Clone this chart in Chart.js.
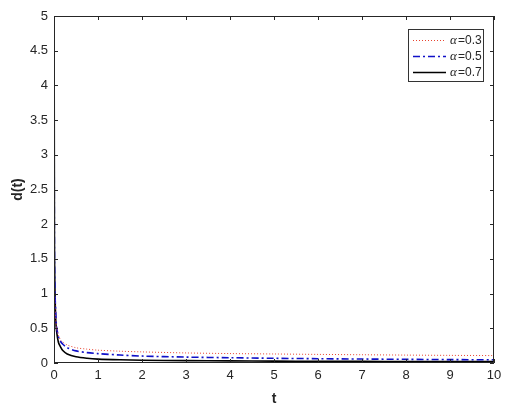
<!DOCTYPE html>
<html>
<head>
<meta charset="utf-8">
<script src="https://cdn.jsdelivr.net/npm/chart.js@4"></script>
<style>
  html, body { margin: 0; padding: 0; background: #fff; }
  #wrap { width: 511px; height: 410px; }
</style>
</head>
<body>
<div id="wrap"><canvas id="dChart"></canvas></div>
<script>
const tValues = [0.001, 0.01, 0.02, 0.04, 0.06, 0.1, 0.15, 0.2, 0.3, 0.5, 0.75, 1, 1.5, 2, 3, 4, 5, 6, 7, 8, 9, 10];
const alpha03 = [2.6, 1.2, 0.9, 0.62, 0.5, 0.4, 0.33, 0.3, 0.26, 0.22, 0.2, 0.185, 0.17, 0.16, 0.145, 0.136, 0.13, 0.124, 0.119, 0.114, 0.11, 0.107];
const alpha05 = [4.2, 1.6, 1.1, 0.7, 0.52, 0.38, 0.31, 0.27, 0.22, 0.175, 0.15, 0.135, 0.115, 0.1, 0.085, 0.076, 0.068, 0.062, 0.057, 0.053, 0.049, 0.046];
const alpha07 = [6, 1.8, 1.1, 0.62, 0.45, 0.3, 0.23, 0.18, 0.13, 0.09, 0.068, 0.056, 0.046, 0.04, 0.034, 0.03, 0.027, 0.025, 0.023, 0.022, 0.021, 0.02];
const seriesLabels = ["0.3", "0.5", "0.7"];

const toPoints = (ys) => tValues.map((t, i) => ({ x: t, y: ys[i] }));

const tickColor = "#262626";

// MATLAB-style box with inward ticks + legend box
const boxPlugin = {
  id: "boxPlugin",
  afterDraw(chart) {
    const c = chart.ctx;
    const a = chart.chartArea;
    const xs = chart.scales.x;
    const ys = chart.scales.y;
    c.save();
    c.strokeStyle = tickColor;
    c.lineWidth = 1;
    c.beginPath();
    c.rect(a.left + 0.5, a.top + 0.5, a.right - a.left - 1, a.bottom - a.top - 1);
    xs.ticks.forEach((tk) => {
      const px = Math.round(xs.getPixelForValue(tk.value)) + 0.5;
      c.moveTo(px, a.bottom); c.lineTo(px, a.bottom - 4);
      c.moveTo(px, a.top); c.lineTo(px, a.top + 4);
    });
    ys.ticks.forEach((tk) => {
      const py = Math.round(ys.getPixelForValue(tk.value)) + 0.5;
      c.moveTo(a.left, py); c.lineTo(a.left + 4, py);
      c.moveTo(a.right, py); c.lineTo(a.right - 4, py);
    });
    c.stroke();

    // legend
    const lx = 408, ly = 29, lw = 75, lh = 52;
    c.fillStyle = "#fff";
    c.fillRect(lx, ly, lw, lh);
    c.strokeStyle = "#333";
    c.strokeRect(lx + 0.5, ly + 0.5, lw, lh);
    chart.data.datasets.forEach((ds, i) => {
      const y = ly + 11 + i * 16;
      c.beginPath();
      c.strokeStyle = ds.borderColor;
      c.lineWidth = ds.borderWidth;
      c.setLineDash(ds.borderDash || []);
      c.moveTo(lx + 5, y + 0.5);
      c.lineTo(lx + 38, y + 0.5);
      c.stroke();
      c.setLineDash([]);
      c.fillStyle = tickColor;
      c.textBaseline = "middle";
      c.font = "italic 13px 'Liberation Serif'";
      c.fillText("\u03b1", lx + 42, y + 1);
      c.font = "12px 'Liberation Sans'";
      c.fillText("=" + seriesLabels[i], lx + 50, y + 1);
    });
    c.restore();
  }
};

new Chart(document.getElementById("dChart"), {
  type: "line",
  data: {
    datasets: [
      {
        label: "\u03b1=0.3",
        data: toPoints(alpha03),
        borderColor: "#e8432f",
        borderWidth: 1,
        borderDash: [1, 2],
        pointRadius: 0,
        tension: 0.3,
      },
      {
        label: "\u03b1=0.5",
        data: toPoints(alpha05),
        borderColor: "#1010c8",
        borderWidth: 1.6,
        borderDash: [7, 3, 2, 3],
        pointRadius: 0,
        tension: 0.3,
      },
      {
        label: "\u03b1=0.7",
        data: toPoints(alpha07),
        borderColor: "#000000",
        borderWidth: 1.6,
        pointRadius: 0,
        tension: 0.3,
      },
    ],
  },
  options: {
    responsive: true,
    maintainAspectRatio: false,
    animation: false,
    layout: { padding: { top: 16, right: 17, left: 0, bottom: 0 } },
    scales: {
      x: {
        type: "linear",
        min: 0,
        max: 10,
        grid: { display: false, drawTicks: false },
        border: { display: false },
        ticks: { stepSize: 1, color: tickColor, padding: 5, font: { family: "Liberation Sans", size: 13 } },
        title: { display: true, text: "t", color: tickColor, padding: 2, font: { family: "Liberation Sans", size: 14, weight: "bold" } },
        afterFit: (s) => { s.height = 47; },
      },
      y: {
        min: 0,
        max: 5,
        grid: { display: false, drawTicks: false },
        border: { display: false },
        ticks: {
          stepSize: 0.5,
          color: tickColor,
          padding: 6,
          font: { family: "Liberation Sans", size: 13 },
          callback: (v) => String(Math.round(v * 10) / 10),
        },
        title: { display: true, text: "d(t)", color: tickColor, padding: { top: 10, bottom: 0 }, font: { family: "Liberation Sans", size: 14, weight: "bold" } },
        afterFit: (s) => { s.width = 54; },
      },
    },
    plugins: {
      legend: { display: false },
      tooltip: { enabled: false },
    },
  },
  plugins: [boxPlugin],
});
</script>
</body>
</html>
